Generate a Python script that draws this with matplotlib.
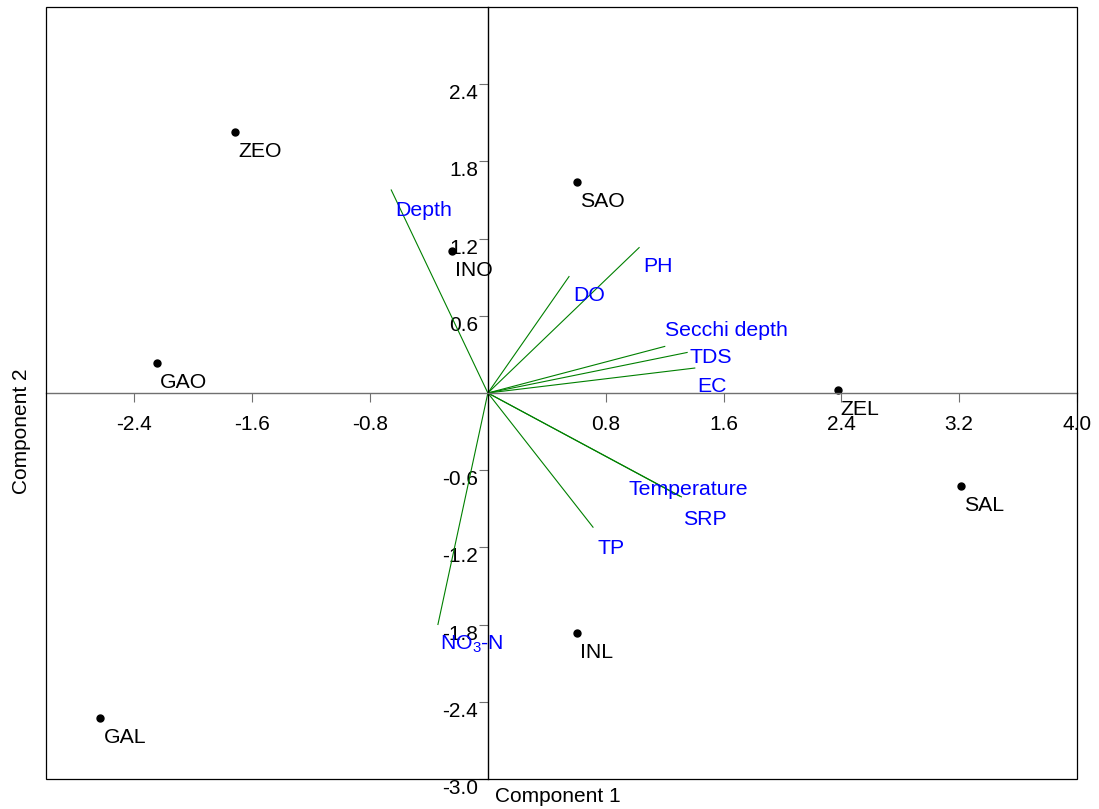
import matplotlib
matplotlib.use("Agg")
import matplotlib.pyplot as plt
from matplotlib.patches import Rectangle

plt.rcParams['font.family'] = ['Liberation Sans', 'DejaVu Sans']
plt.rcParams['mathtext.default'] = 'regular'

# sample scores
site_names = ['ZEO', 'SAO', 'INO', 'GAO', 'ZEL', 'SAL', 'INL', 'GAL']
site_x = [-1.715, 0.608, -0.241, -2.245, 2.374, 3.212, 0.605, -2.630]
site_y = [2.031, 1.643, 1.107, 0.230, 0.023, -0.725, -1.869, -2.529]

# variable loadings
var_names = ['Depth', 'DO', 'PH', 'Secchi depth', 'TDS', 'EC',
             'Temperature', 'SRP', 'TP', 'NO$_3$-N']
var_x = [-0.656, 0.551, 1.027, 1.201, 1.353, 1.405, 1.314, 1.300, 0.714, -0.339]
var_y = [1.578, 0.905, 1.130, 0.362, 0.315, 0.194, -0.807, -0.800, -1.043, -1.799]

# label spots for the loadings (the plot program staggered some of them)
var_lx = [-0.656, 0.551, 1.027, 1.175, 1.340, 1.395, 0.925, 1.300, 0.714, -0.355]
var_ly = [1.560, 0.905, 1.130, 0.630, 0.420, 0.194, -0.607, -0.840, -1.065, -1.799]

x_ticks = [-2.4, -1.6, -0.8, 0.8, 1.6, 2.4, 3.2, 4.0]
y_ticks = [2.4, 1.8, 1.2, 0.6, -0.6, -1.2, -1.8, -2.4, -3.0]

fig = plt.figure(figsize=(10.99, 8.09), dpi=100)
ax = fig.add_axes([46/1099, 1-779/809, 1031/1099, 772/809])

ax.set_xlim(-3.0, 4.0)
ax.set_ylim(-3.0, 3.0)

# axis lines through the origin
ax.spines['left'].set_position(('data', 0))
ax.spines['bottom'].set_position(('data', 0))
ax.spines['bottom'].set_color('#707070')
ax.spines['left'].set_color('black')
ax.spines['top'].set_visible(False)
ax.spines['right'].set_visible(False)
for s in ['left', 'bottom']:
    ax.spines[s].set_linewidth(1.0)
ax.add_patch(Rectangle((0, 0), 1, 1, transform=ax.transAxes, fill=False,
                       edgecolor='black', linewidth=0.9, clip_on=False, zorder=5))

ax.set_xticks(x_ticks)
ax.set_xticklabels([f'{v:.1f}' for v in x_ticks])
ax.set_yticks(y_ticks)
ax.set_yticklabels([f'{v:.1f}' for v in y_ticks])
ax.tick_params(axis='x', direction='out', length=6.5, width=0.8, color='#707070',
               pad=9, labelsize=15)
ax.tick_params(axis='y', direction='out', length=6.5, width=0.8, color='#707070',
               pad=0.5, labelsize=15)
for lbl in ax.get_yticklabels():
    lbl.set_verticalalignment('top')

# loadings
for i in range(len(var_names)):
    ax.plot([0, var_x[i]], [0, var_y[i]], color='#008000', linewidth=0.8)
    ax.annotate(var_names[i], (var_lx[i], var_ly[i]), xytext=(4, -9),
                textcoords='offset pixels', ha='left', va='top',
                color='#0000ff', fontsize=15.3)

# sites
ax.plot(site_x, site_y, 'o', color='black', markersize=5, linestyle='none')
for i in range(len(site_names)):
    ax.annotate(site_names[i], (site_x[i], site_y[i]), xytext=(3, -10),
                textcoords='offset pixels', ha='left', va='top',
                color='black', fontsize=15.3)

fig.text(558/1099, 1-797/809, 'Component 1', ha='center', va='center', fontsize=15)
fig.text(22/1099, 1-431/809, 'Component 2', ha='center', va='center',
         rotation=90, fontsize=15)

fig.savefig('out.png', dpi=100)
